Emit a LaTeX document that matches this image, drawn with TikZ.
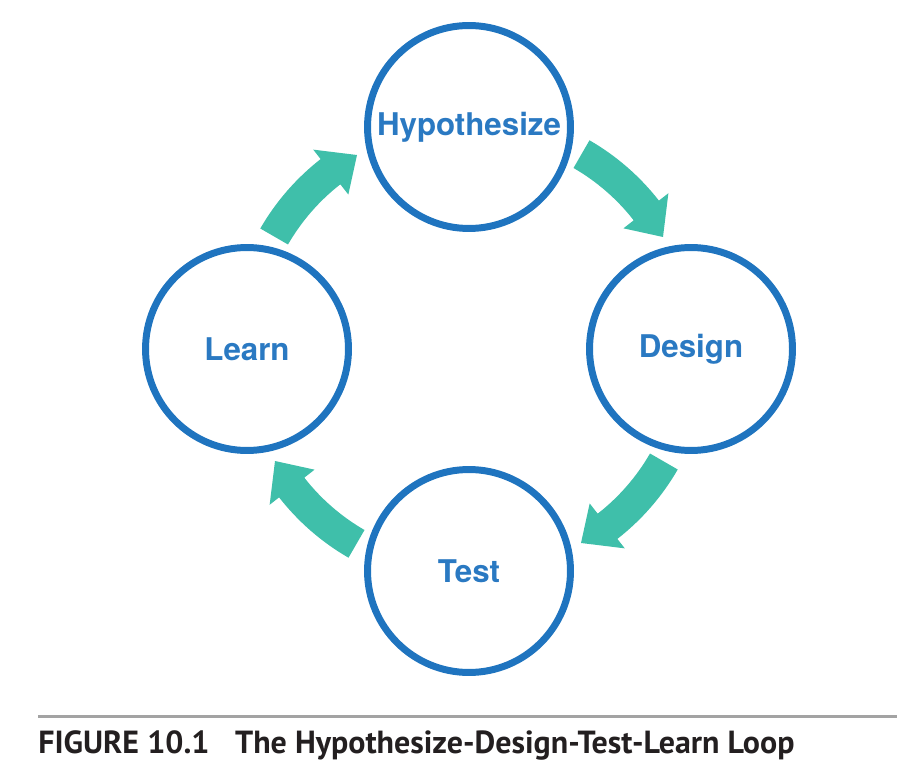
\documentclass[tikz,border=0pt]{standalone}
\usepackage{fontspec}
\setsansfont{TeX Gyre Heros}
\newfontfamily\captionfont{PT Sans}
\usetikzlibrary{arrows.meta}
\definecolor{loopblue}{HTML}{1F74BF}
\definecolor{looptext}{HTML}{2A79C2}
\definecolor{loopteal}{HTML}{3FBFAA}
\definecolor{rulegray}{HTML}{A3A3A3}
\definecolor{captext}{HTML}{231F20}

\begin{document}
\begin{tikzpicture}[x=0.02cm, y=0.02cm,
		stage/.style={circle, draw=loopblue, line width=3.97pt, minimum size=4.06cm, inner sep=0pt, text=looptext, font=\sffamily\bfseries\fontsize{17.8}{20}\selectfont}]
		\def\bigarrow#1{\fill[loopteal] (#1:209) arc[start angle=#1, end angle=#1-22, radius=209] -- (#1-22:196) -- (#1-30:224) -- (#1-22:253) -- (#1-22:241) arc[start angle=#1-22, end angle=#1, radius=241] -- cycle;}
		\useasboundingbox (0,0) rectangle (911,761);
		\coordinate (c) at (469,412);
		% loop
		\begin{scope}[shift={(c)}]
			\node[stage] (hyp) at (90:222) {Hypothesize};
			\node[stage] (design) at (0:222) {Design};
			\node[stage] (test) at (270:222) {Test};
			\node[stage] (learn) at (180:222) {Learn};
			\bigarrow{60}
			\bigarrow{330}
			\bigarrow{240}
			\bigarrow{150}
		\end{scope}
		% caption
		\coordinate (rulel) at (38,45);
		\coordinate (ruler) at (897,45);
		\draw[rulegray, line width=1.7pt] (rulel) -- (ruler);
		\node[anchor=base west, inner sep=0pt, text=captext, font=\captionfont\bfseries\fontsize{18.2}{20}\selectfont] (cap) at (38,8) {FIGURE 10.1\hspace{0.8em}The Hypothesize-Design-Test-Learn Loop};
	\end{tikzpicture}
\end{document}
